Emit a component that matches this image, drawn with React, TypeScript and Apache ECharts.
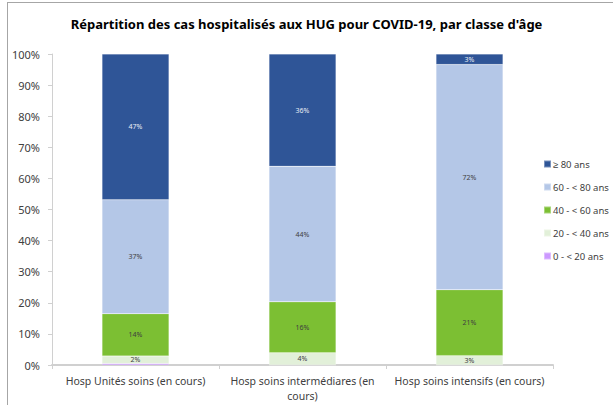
import React, { useEffect, useRef } from "react";
import * as echarts from "echarts";

const categories = [
  "Hosp Unités soins (en cours)",
  "Hosp soins intermédiares (en\ncours)",
  "Hosp soins intensifs (en cours)",
];
const seriesNames = ["0 - < 20 ans", "20 - < 40 ans", "40 - < 60 ans", "60 - < 80 ans", "≥ 80 ans"];
const age0_20 = [0.5, 0, 0];
const age20_40 = [2.4, 3.9, 3.0];
const age40_60 = [13.6, 16.4, 21.2];
const age60_80 = [36.6, 43.6, 72.4];
const age80 = [46.9, 36.1, 3.4];
const yTicks = [0, 10, 20, 30, 40, 50, 60, 70, 80, 90, 100];

const colors = ["#cc99ff", "#e2f0d9", "#7cbf33", "#b4c7e7", "#2f5597"];
const labelColors = ["#404040", "#404040", "#404040", "#404040", "#e8ecf4"];
const showLabel = [false, true, true, true, true];

const FONT = "'Noto Sans', sans-serif";

export default function App() {
  const ref = useRef<HTMLDivElement>(null);
  useEffect(() => {
    if (!ref.current) return;
    const chart = echarts.init(ref.current, null, { renderer: "svg" });
    const data = [age0_20, age20_40, age40_60, age60_80, age80];
    chart.setOption({
      animation: false,
      textStyle: { fontFamily: FONT },
      title: {
        text: "Répartition des cas hospitalisés aux HUG pour COVID-19, par classe d'âge",
        left: "center",
        top: 12,
        textStyle: { fontSize: 13, fontWeight: "bold", color: "#000", fontFamily: FONT },
      },
      graphic: [
        { type: "line", shape: { x1: 7, y1: 2.5, x2: 613, y2: 2.5 }, style: { stroke: "#a6a6a6", lineWidth: 1 } },
        { type: "line", shape: { x1: 7.5, y1: 2, x2: 7.5, y2: 405 }, style: { stroke: "#a6a6a6", lineWidth: 1 } },
      ],
      legend: {
        orient: "vertical",
        left: 538,
        top: 154,
        itemWidth: 7,
        itemHeight: 7,
        itemGap: 13,
        icon: "rect",
        data: [...seriesNames].reverse(),
        textStyle: { fontSize: 9.5, color: "#404040", fontFamily: FONT, padding: [0, 0, 0, -3] },
      },
      grid: { left: 52, right: 60, top: 54, bottom: 40, containLabel: false },
      xAxis: {
        type: "category",
        data: categories,
        axisLine: { lineStyle: { color: "#d0d0d0", width: 2 } },
        axisTick: { show: true, length: 4, lineStyle: { color: "#d0d0d0" } },
        axisLabel: { fontSize: 10.5, color: "#404040", margin: 8, lineHeight: 15, interval: 0 },
      },
      yAxis: {
        type: "value",
        min: 0,
        max: 100,
        interval: 10,
        splitLine: { show: false },
        axisLine: { show: true, lineStyle: { color: "#d0d0d0", width: 1 } },
        axisTick: { show: true, length: 4, lineStyle: { color: "#d0d0d0" } },
        axisLabel: {
          fontSize: 11,
          color: "#404040",
          margin: 12,
          formatter: (v: number) => (yTicks.includes(v) ? v + "%" : ""),
        },
      },
      series: seriesNames.map((name, i) => ({
        name,
        type: "bar",
        stack: "total",
        barWidth: 67,
        data: data[i],
        itemStyle: { color: colors[i], borderColor: "rgba(255,255,255,0.35)", borderWidth: 0.5 },
        label: {
          show: showLabel[i],
          position: "inside",
          fontSize: 7,
          color: labelColors[i],
          fontFamily: FONT,
          formatter: (p: any) => (p.value > 0 ? Math.round(p.value) + "%" : ""),
        },
      })),
    });
    return () => chart.dispose();
  }, []);
  return <div ref={ref} style={{ width: 613, height: 405, position: "absolute", left: 0, top: 0 }} />;
}
